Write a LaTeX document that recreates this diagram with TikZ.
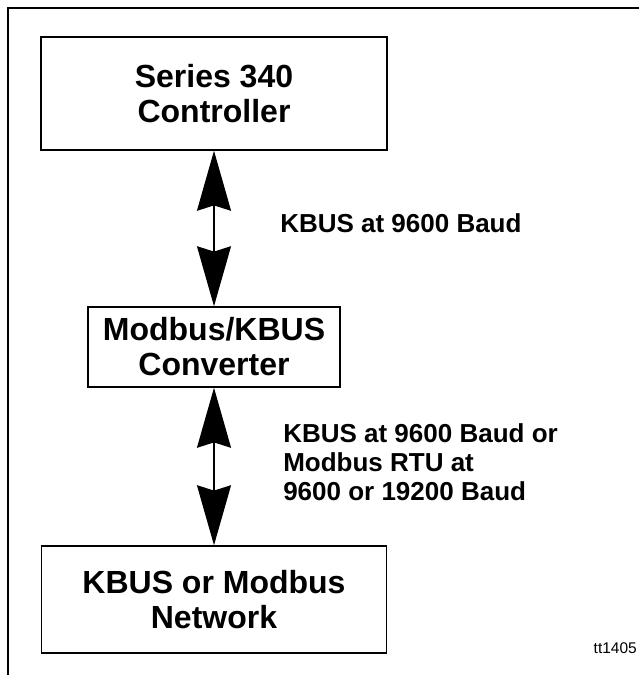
\documentclass[tikz,border=0pt]{standalone}
\usepackage{fontspec}
\setmainfont{Liberation Sans}
\usetikzlibrary{arrows.meta}

\begin{document}
\begin{tikzpicture}[x=0.75pt,y=-0.75pt,
        box/.style={draw,line width=1.1pt,align=center,inner sep=0pt,font=\bfseries\fontsize{24}{26.25}\selectfont},
        link/.style={line width=1.1pt,{Stealth[length=45pt,width=25.5pt,inset=4pt]}-{Stealth[length=45pt,width=25.5pt,inset=4pt]}},
        note/.style={align=left,inner sep=0pt,font=\bfseries\fontsize{19.5}{21.4}\selectfont}]
    \useasboundingbox (0,0) rectangle (639,675);
    \draw[line width=1.5pt] (8,675) -- (8,8) -- (639,8);
    \node[box,minimum width=259.5pt,minimum height=84.75pt] (ctrl) at (214,93.5) {Series 340\\Controller};
    \node[box,minimum width=189pt,minimum height=60pt] (conv) at (214,347) {Modbus/KBUS\\Converter};
    \node[box,minimum width=258.75pt,minimum height=80.25pt] (net) at (214,599.5) {KBUS or Modbus\\Network};
    \draw[link] (ctrl.south) -- (conv.north);
    \draw[link] (conv.south) -- (net.north);
    \node[note,anchor=base west] (upper) at (280,232) {KBUS at 9600 Baud};
    \node[note,anchor=base west] (lower) at (283,500) {KBUS at 9600 Baud or\\Modbus RTU at\\9600 or 19200 Baud};
    \node[inner sep=0pt,anchor=base east,font=\fontsize{11.6}{14}\selectfont] (tag) at (637,653) {tt1405};
\end{tikzpicture}
\end{document}
